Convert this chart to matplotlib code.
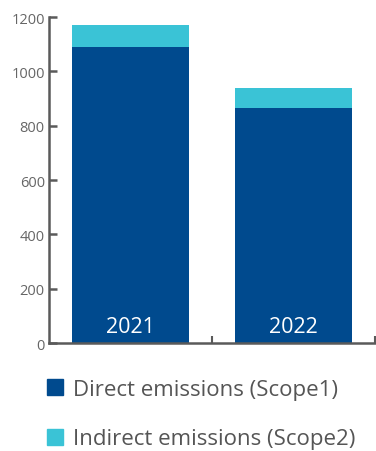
import matplotlib.pyplot as plt
from matplotlib.patches import Patch

plt.rcParams['font.family'] = ['Open Sans', 'DejaVu Sans']

years = ['2021', '2022']
direct = [1090, 865]
indirect = [80, 73]
yticks = [0, 200, 400, 600, 800, 1000, 1200]

dark = '#004A8E'
light = '#3AC3D6'
grey = '#5a5a5a'

fig = plt.figure(figsize=(3.76, 4.52), dpi=100)
ax = fig.add_axes([0.1303, 0.2389, 0.8670, 0.7212])

x = range(len(years))
ax.bar(x, direct, width=0.72, color=dark)
ax.bar(x, indirect, width=0.72, bottom=direct, color=light)

# year labels sit inside the bars near the base
for i, yr in enumerate(years):
    ax.text(i, 22, yr, ha='center', va='bottom', color='white', fontsize=15.5)

ax.set_xlim(-0.5, 1.5)
ax.set_ylim(0, 1200)
ax.set_yticks(yticks)
ax.set_xticks([0.5, 1.5])
ax.set_xticklabels([])

for side in ['top', 'right']:
    ax.spines[side].set_visible(False)
for side in ['left', 'bottom']:
    ax.spines[side].set_color(grey)
    ax.spines[side].set_linewidth(1.8)

ax.tick_params(axis='y', direction='in', length=6, width=1.8, color=grey,
               labelcolor='#666666', labelsize=10.5, pad=3)
ax.tick_params(axis='x', direction='in', length=5, width=1.5, color=grey)

handles = [Patch(color=dark, label='Direct emissions (Scope1)'),
           Patch(color=light, label='Indirect emissions (Scope2)')]
fig.legend(handles=handles, loc='upper left', bbox_to_anchor=(0.102, 0.18),
           frameon=False, fontsize=16, labelcolor='#555555',
           handlelength=0.72, handleheight=0.72, handletextpad=0.45,
           labelspacing=1.3, borderaxespad=0)

fig.savefig('out.png', dpi=100)
